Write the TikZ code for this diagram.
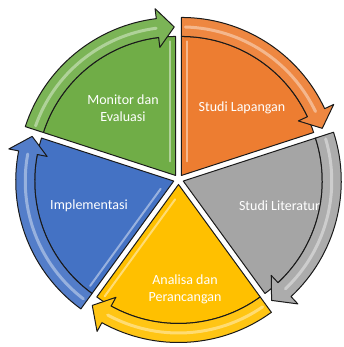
\documentclass[tikz,border=0pt]{standalone}
\usepackage{fontspec}
\setmainfont{Carlito}
\usetikzlibrary{calc}
\definecolor{cOrange}{HTML}{ED7D31}
\definecolor{cGray}{HTML}{A5A5A5}
\definecolor{cYellow}{HTML}{FFC000}
\definecolor{cBlue}{HTML}{4472C4}
\definecolor{cGreen}{HTML}{70AD47}
\definecolor{outl}{HTML}{1A1A1A}
\tikzset{
  segline/.style={draw=outl, line width=1pt, line join=round},
  hl/.style={white, opacity=.45, line width=2pt, line cap=round},
  bandhl/.style={white, opacity=.4, line width=3pt, line cap=round},
  lbl/.style={text=white, font=\fontsize{14}{17}\selectfont, align=center, inner sep=0pt}
}
\newcommand{\cycseg}[4]{%
  \pgfmathsetmacro\segMid{(#1+#2)/2}%
  \pgfmathsetmacro\segHb{#2+7}%
  \pgfmathsetmacro\segTb{#2+0.5}%
  \begin{scope}[shift={(\segMid:5pt)}]
    \filldraw[segline, fill=#3] (0,0) -- (#1:139pt) arc[start angle=#1, end angle=#2, radius=139pt] -- cycle;
    \ifcase#4\or
      \draw[hl] ($(#1:14pt)+({#1-90}:6pt)$) -- ($(#1:134pt)+({#1-90}:6pt)$);
    \or
      \draw[hl] ($(#2:14pt)+({#2+90}:6pt)$) -- ($(#2:134pt)+({#2+90}:6pt)$);
    \fi
    \filldraw[segline, fill=#3!92!white] (#1:139pt) -- (#1:158pt)
      arc[start angle=#1, end angle=\segHb, radius=158pt]
      -- (\segHb:168pt) -- (\segTb:148.5pt) -- (\segHb:129pt) -- (\segHb:139pt)
      arc[start angle=\segHb, end angle=#1, radius=139pt] -- cycle;
    \draw[bandhl] ({#1-1.5}:148.5pt) arc[start angle={#1-1.5}, end angle={\segHb+0.5}, radius=148.5pt];
  \end{scope}}
\begin{document}
\begin{tikzpicture}
  \useasboundingbox (-178.5pt,-167.5pt) rectangle (164.5pt,179.5pt);
  \cycseg{90}{18}{cOrange}{1}
  \cycseg{18}{-54}{cGray}{0}
  \cycseg{-54}{-126}{cYellow}{2}
  \cycseg{234}{162}{cBlue}{1}
  \cycseg{162}{90}{cGreen}{2}
  \node[lbl] (monitor) at (-55.5pt,71pt) {Monitor dan\\Evaluasi};
  \node[lbl] (lapangan) at (63.5pt,71.5pt) {Studi Lapangan};
  \node[lbl] (literatur) at (101pt,-26.5pt) {Studi Literatur};
  \node[lbl] (implementasi) at (-89.5pt,-26.5pt) {Implementasi};
  \node[lbl] (analisa) at (6.5pt,-109.5pt) {Analisa dan\\Perancangan};
\end{tikzpicture}
\end{document}
